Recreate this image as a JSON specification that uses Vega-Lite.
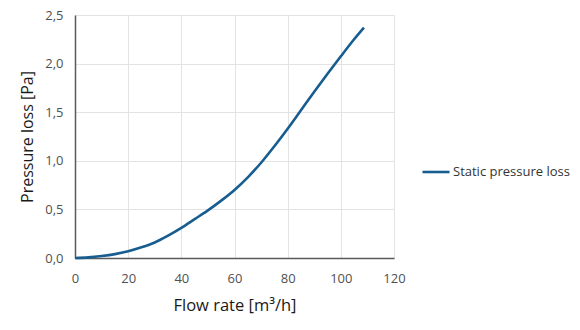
{
  "$schema": "https://vega.github.io/schema/vega-lite/v6.json",
  "width": 319,
  "height": 243,
  "autosize": {"type": "none"},
  "padding": {"left": 75, "top": 15, "right": 186, "bottom": 72},
  "config": {
    "font": "Open Sans",
    "view": {"stroke": null},
    "axis": {
      "gridColor": "#e3e3e3",
      "gridWidth": 1,
      "ticks": false,
      "labelFlush": false,
      "labelFont": "Open Sans",
      "labelFontSize": 13,
      "labelColor": "#505050",
      "titleFont": "Open Sans",
      "titleFontSize": 16.5,
      "titleFontWeight": "normal",
      "titleColor": "#1a1a1a",
      "domainColor": "#595959",
      "domainWidth": 1.5
    }
  },
  "data": {
    "values": [
      {"flow": 0, "loss": 0, "series": "Static pressure loss"},
      {"flow": 5, "loss": 0.006, "series": "Static pressure loss"},
      {"flow": 10, "loss": 0.02, "series": "Static pressure loss"},
      {"flow": 15, "loss": 0.04, "series": "Static pressure loss"},
      {"flow": 20, "loss": 0.07, "series": "Static pressure loss"},
      {"flow": 25, "loss": 0.11, "series": "Static pressure loss"},
      {"flow": 30, "loss": 0.16, "series": "Static pressure loss"},
      {"flow": 35, "loss": 0.23, "series": "Static pressure loss"},
      {"flow": 40, "loss": 0.31, "series": "Static pressure loss"},
      {"flow": 45, "loss": 0.40, "series": "Static pressure loss"},
      {"flow": 50, "loss": 0.49, "series": "Static pressure loss"},
      {"flow": 55, "loss": 0.59, "series": "Static pressure loss"},
      {"flow": 60, "loss": 0.70, "series": "Static pressure loss"},
      {"flow": 65, "loss": 0.83, "series": "Static pressure loss"},
      {"flow": 70, "loss": 0.98, "series": "Static pressure loss"},
      {"flow": 75, "loss": 1.15, "series": "Static pressure loss"},
      {"flow": 80, "loss": 1.33, "series": "Static pressure loss"},
      {"flow": 85, "loss": 1.52, "series": "Static pressure loss"},
      {"flow": 90, "loss": 1.71, "series": "Static pressure loss"},
      {"flow": 95, "loss": 1.895, "series": "Static pressure loss"},
      {"flow": 100, "loss": 2.075, "series": "Static pressure loss"},
      {"flow": 105, "loss": 2.25, "series": "Static pressure loss"},
      {"flow": 108.7, "loss": 2.37, "series": "Static pressure loss"}
    ]
  },
  "mark": {"type": "line", "interpolate": "monotone", "strokeWidth": 2.6},
  "encoding": {
    "x": {
      "field": "flow",
      "type": "quantitative",
      "title": "Flow rate [m³/h]",
      "scale": {"domain": [0, 120], "nice": false},
      "axis": {"values": [0, 20, 40, 60, 80, 100, 120], "labelPadding": 14, "titlePadding": 12}
    },
    "y": {
      "field": "loss",
      "type": "quantitative",
      "title": "Pressure loss [Pa]",
      "scale": {"domain": [0, 2.5], "nice": false},
      "axis": {
        "values": [0, 0.5, 1, 1.5, 2, 2.5],
        "labelExpr": "replace(format(datum.value, '.1f'), '.', ',')",
        "labelPadding": 12,
        "titlePadding": 9,
        "titleFontSize": 16
      }
    },
    "color": {
      "field": "series",
      "type": "nominal",
      "scale": {"range": ["#175d8f"]},
      "legend": {
        "title": null,
        "orient": "none",
        "legendX": 346,
        "legendY": 142,
        "symbolType": "stroke",
        "symbolSize": 729,
        "symbolStrokeWidth": 2.6,
        "labelFont": "Open Sans",
        "labelFontSize": 13,
        "labelColor": "#333333",
        "labelOffset": 2
      }
    }
  }
}
